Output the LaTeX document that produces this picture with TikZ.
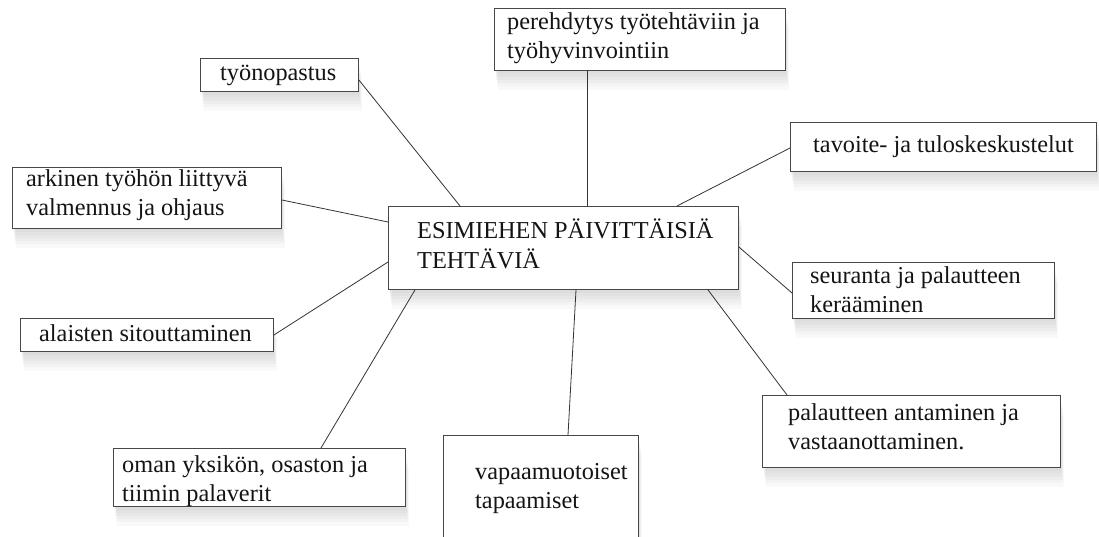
\documentclass[tikz,border=0pt]{standalone}
\usepackage{fontspec}
\setmainfont{Liberation Serif}
\usetikzlibrary{calc,shadows}

\tikzset{
  haze/.style={general shadow={fill=black, opacity=0.022,
      shadow xshift=#1*0.6pt, shadow yshift=-#1*3.2pt}},
  box/.style={draw=black!72, line width=0.9pt, fill=white, inner sep=0pt,
    anchor=north west,
    haze=1, haze=2, haze=3, haze=4, haze=5, haze=6},
  % multi-line texts are placed by the baseline of their last line
  txt/.style={font=\fontsize{24.3}{29}\selectfont, inner sep=0pt,
    anchor=base west, align=left, text=black!92},
  conn/.style={draw=black!80, line width=0.8pt}
}

\begin{document}
\begin{tikzpicture}[x=1pt,y=-1pt]
  \useasboundingbox (0,0) rectangle (1099,537);
  \clip (0,0) rectangle (1099,537);

  % boxes
  \node[box, minimum width=158pt, minimum height=33pt] (b1) at (200,58) {};
  \node[box, minimum width=291pt, minimum height=62pt] (b2) at (494,8) {};
  \node[box, minimum width=306pt, minimum height=49pt] (b3) at (790,122) {};
  \node[box, minimum width=269pt, minimum height=61pt] (b4) at (12,167) {};
  \node[box, minimum width=262pt, minimum height=56pt] (b5) at (792,262) {};
  \node[box, minimum width=253pt, minimum height=33pt] (b6) at (20,318) {};
  \node[box, minimum width=292pt, minimum height=58pt] (b7) at (113,448) {};
  \node[box, minimum width=195pt, minimum height=130pt] (b8) at (443,435) {};
  \node[box, minimum width=298pt, minimum height=72pt] (b9) at (762,395) {};
  \node[box, minimum width=350pt, minimum height=83pt] (c) at (388,206) {};

  % connectors from the central box to each task
  \draw[conn] ($(b1.north east)+(0,22)$) -- ($(c.north west)+(72,0)$);
  \draw[conn] ($(b2.south west)+(93,0)$) -- ($(c.north west)+(199,0)$);
  \draw[conn] ($(b3.north west)+(0,26)$) -- ($(c.north west)+(289,0)$);
  \draw[conn] ($(b4.north east)+(0,33)$) -- ($(c.north west)+(0,16)$);
  \draw[conn] ($(b5.north west)+(0,31)$) -- ($(c.north east)+(0,41)$);
  \draw[conn] ($(b6.north east)+(0,17)$) -- ($(c.north west)+(0,56)$);
  \draw[conn] ($(b7.north west)+(208,0)$) -- ($(c.south west)+(27,0)$);
  \draw[conn] ($(b8.north west)+(125,0)$) -- ($(c.south west)+(188,0)$);
  \draw[conn] ($(b9.north west)+(25,0)$) -- ($(c.south west)+(320,0)$);

  % texts
  \node[txt] (t1) at (220,81) {työnopastus};
  \node[txt] (t2) at (507,59) {perehdytys työtehtäviin ja\\työhyvinvointiin};
  \node[txt] (t3) at (813,153) {tavoite- ja tuloskeskustelut};
  \node[txt] (t4) at (26,216) {arkinen työhön liittyvä\\valmennus ja ohjaus};
  \node[txt] (t5) at (810,312) {seuranta ja palautteen\\kerääminen};
  \node[txt] (t6) at (39,341) {alaisten sitouttaminen};
  \node[txt] (t7) at (122,501) {oman yksikön, osaston ja\\tiimin palaverit};
  \node[txt] (t8) at (475,508) {vapaamuotoiset\\tapaamiset};
  \node[txt] (t9) at (788,449) {palautteen antaminen ja\\vastaanottaminen.};
  \node[txt] (tc) at (417,268) {ESIMIEHEN PÄIVITTÄISIÄ\\TEHTÄVIÄ};
\end{tikzpicture}
\end{document}
